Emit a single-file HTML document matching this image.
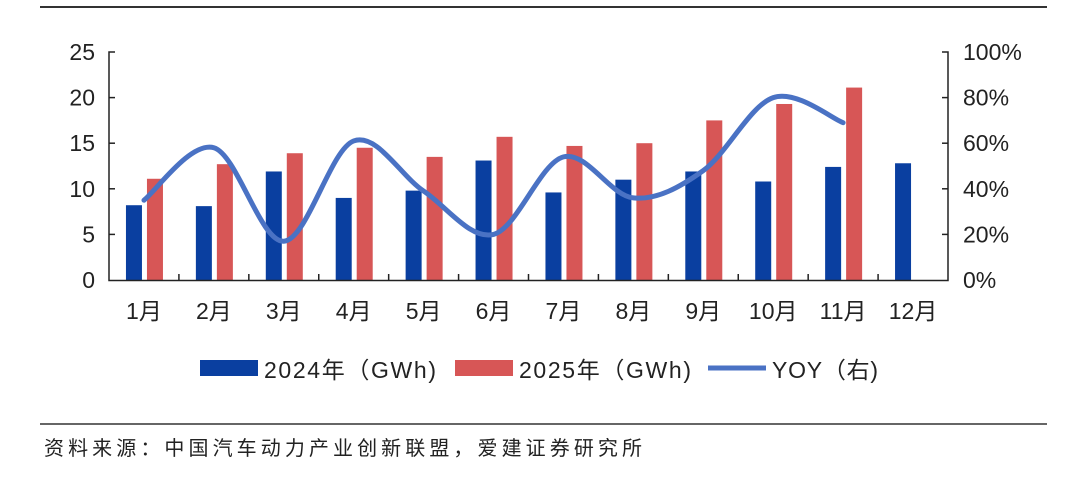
<!DOCTYPE html>
<html><head><meta charset="utf-8"><style>
body{margin:0;background:#fff;width:1080px;height:493px;overflow:hidden}
svg text{font-family:"Liberation Sans","Noto Sans CJK SC",sans-serif;fill:#222}
</style></head><body>
<svg id="s" width="1080" height="493" xmlns="http://www.w3.org/2000/svg">
<line x1="40" y1="7" x2="1047" y2="7" stroke="#333" stroke-width="2"/>
<line x1="40" y1="424" x2="1047" y2="424" stroke="#333" stroke-width="1.5"/>
<g id="g"></g>
<g font-size="23">
<rect x="200" y="360" width="58" height="16" fill="#0a3fa0"/><text x="264" y="378" textLength="172">2024年（GWh)</text>
<rect x="455" y="360" width="58" height="16" fill="#d75656"/><text x="519" y="378" textLength="172">2025年（GWh)</text>
<line x1="708" y1="368" x2="766" y2="368" stroke="#4a72c4" stroke-width="5"/><text x="772" y="378" textLength="106">YOY（右)</text>
</g>
<text x="44" y="455" font-size="20" fill="#333" textLength="598">资料来源：中国汽车动力产业创新联盟，爱建证券研究所</text>
</svg>
<script>
var g=document.getElementById('g'),h='';
var L=109,R=948,Y0=280,k=9.12,w=(R-L)/12;
var a=[8.2,8.1,11.9,9.0,9.8,13.1,9.6,11.0,11.9,10.8,12.4,12.8];
var b=[11.1,12.7,13.9,14.5,13.5,15.7,14.7,15.0,17.5,19.3,21.1];
var y=[35,58,17,61,39,20,54,36,48,80,69];
for(var i=0;i<12;i++){var c=L+w*(i+0.5);
h+='<rect x="'+(c-18)+'" y="'+(Y0-a[i]*k)+'" width="16" height="'+a[i]*k+'" fill="#0a3fa0"/>';
if(i<11)h+='<rect x="'+(c+3)+'" y="'+(Y0-b[i]*k)+'" width="16" height="'+b[i]*k+'" fill="#d75656"/>';
h+='<text x="'+c+'" y="319" font-size="23" text-anchor="middle">'+(i+1)+'月</text>';
if(i>0)h+='<line x1="'+(L+w*i)+'" y1="274" x2="'+(L+w*i)+'" y2="281" stroke="#222" stroke-width="1.5"/>';}
h+='<path d="M'+(L+6)+' 52H'+L+'V280.5H'+R+'V52H'+(R-6)+'" fill="none" stroke="#222" stroke-width="1.5"/>';
for(var j=0;j<=5;j++){var yy=Y0-j*5*k;
h+='<text x="95" y="'+(yy+8)+'" font-size="23" text-anchor="end">'+(j*5)+'</text>';
h+='<text x="963" y="'+(yy+8)+'" font-size="23">'+(j*20)+'%</text>';
if(j>0&&j<5){h+='<line x1="'+L+'" y1="'+yy+'" x2="'+(L+6)+'" y2="'+yy+'" stroke="#222" stroke-width="1.5"/><line x1="'+(R-6)+'" y1="'+yy+'" x2="'+R+'" y2="'+yy+'" stroke="#222" stroke-width="1.5"/>';}}
var P=y.map(function(v,i){return[L+w*(i+0.5),Y0-v*2.28]});
var d='M'+P[0][0]+' '+P[0][1];
for(var i=0;i<P.length-1;i++){var p0=P[i-1]||P[i],p1=P[i],p2=P[i+1],p3=P[i+2]||p2;
d+=' C'+(p1[0]+(p2[0]-p0[0])/6)+' '+(p1[1]+(p2[1]-p0[1])/6)+' '+(p2[0]-(p3[0]-p1[0])/6)+' '+(p2[1]-(p3[1]-p1[1])/6)+' '+p2[0]+' '+p2[1];}
h+='<path d="'+d+'" fill="none" stroke="#4a72c4" stroke-width="5" stroke-linecap="round"/>';
g.innerHTML=h;
</script>
</body></html>
